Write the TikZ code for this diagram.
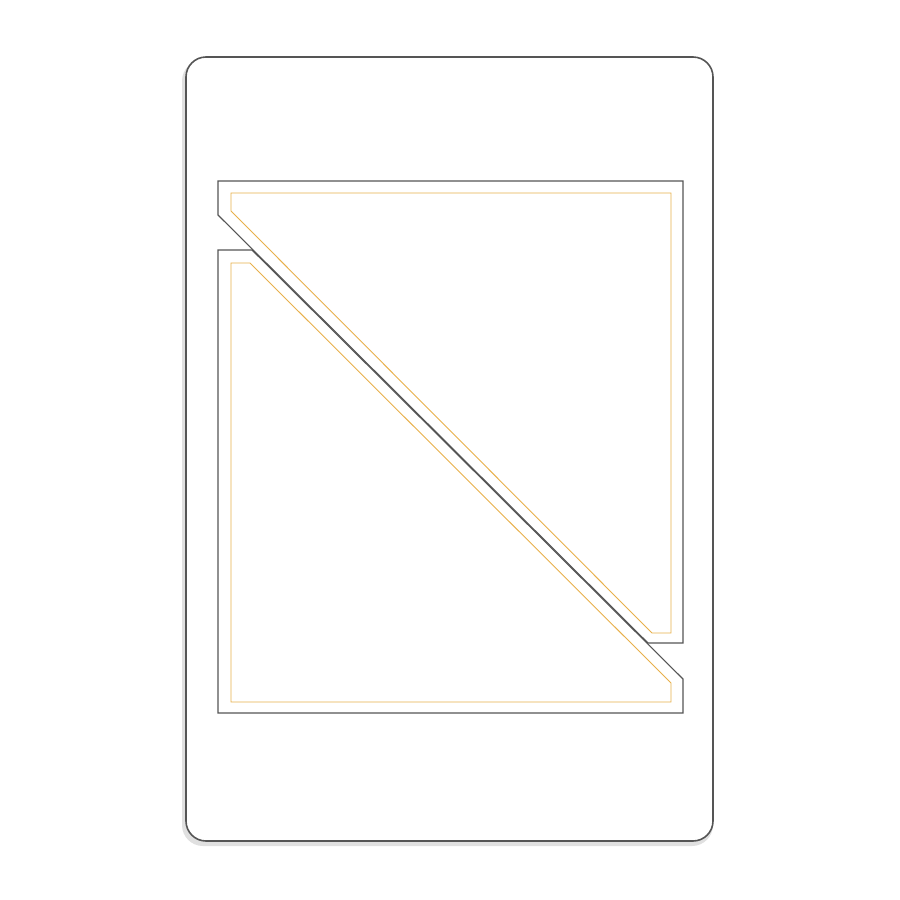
\documentclass[tikz,border=0pt]{standalone}
\usepackage{tikz}
\usetikzlibrary{positioning}

\definecolor{cardline}{RGB}{85,85,85}
\definecolor{dieline}{RGB}{232,176,74}

\tikzset{
  card/.style = {draw=cardline, line width=1.6pt, fill=white, rounded corners=20pt},
  cardshadow/.style = {fill=black!12, rounded corners=21pt},
  cutline/.style = {draw=cardline, line width=1.1pt, line join=miter},
  foldline/.style = {draw=dieline, line width=0.9pt, line join=miter}
}

\begin{document}
\begin{tikzpicture}[x=1pt, y=-1pt]
\useasboundingbox (0,0) rectangle (900,900);
\fill[white] (0,0) rectangle (900,900);
% card
\path[cardshadow] (182,60) rectangle (713,846);
\path[card] (186,57) rectangle (713,841);
% upper piece
\draw[cutline] (218,181) -- (683,181) -- (683,643) -- (648,643) -- (218,215) -- cycle;
\draw[foldline] (231,193) -- (671,193) -- (671,633) -- (652,633) -- (231,211) -- cycle;
% lower piece
\draw[cutline] (218,250) -- (252,250) -- (683,679) -- (683,713) -- (218,713) -- cycle;
\draw[foldline] (231,263) -- (250,263) -- (671,683) -- (671,702) -- (231,702) -- cycle;
\end{tikzpicture}
\end{document}
